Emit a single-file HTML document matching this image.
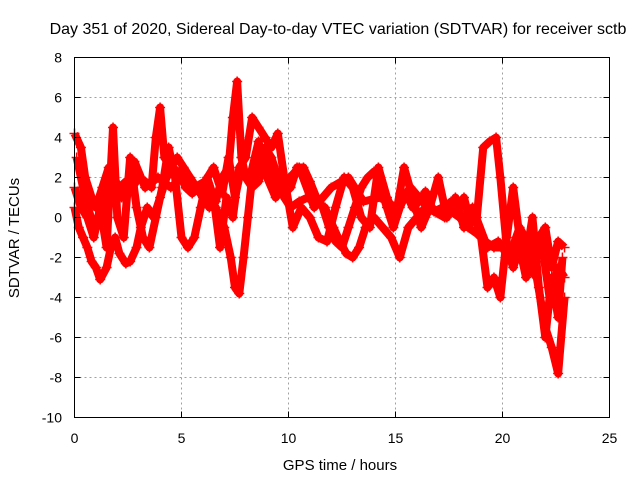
<!DOCTYPE html>
<html><head><meta charset="utf-8"><style>
body{margin:0;background:#fff}
svg{display:block;font-family:"Liberation Sans",sans-serif}
</style></head><body>
<svg id="chart" width="640" height="480" viewBox="0 0 640 480">
<rect width="640" height="480" fill="#fff"/>
<text x="338" y="34" font-size="16" text-anchor="middle">Day 351 of 2020, Sidereal Day-to-day VTEC variation (SDTVAR) for receiver sctb</text>
<g id="grid"></g>
<g id="series"></g>
<rect x="74.5" y="57.5" width="535" height="360" fill="none" stroke="#000" stroke-width="1"/>
<g id="ticks"></g>
<text x="340" y="470" font-size="15" text-anchor="middle">GPS time / hours</text>
<text transform="translate(19,238) rotate(-90)" font-size="15" text-anchor="middle">SDTVAR / TECUs</text>
</svg>
<script>
const xTicks=[0,5,10,15,20,25];
const yTicks=[8,6,4,2,0,-2,-4,-6,-8,-10];
const tA=[0,0.2,0.4,0.6,0.8,1.0,1.2,1.5,1.7,1.9,2.1,2.4,2.6,2.9,3.1,3.4,3.7,4.0,4.3,4.6,4.9,5.2,5.5,5.8,6.2,6.6,7.0,7.3,7.5,7.7,7.9,8.1,8.3,8.6,8.9,9.2,9.5,9.8,10.1,10.5,10.9,11.3,11.7,12.1,12.4,12.7,13.0,13.3,13.6,14.0,14.4,14.8,15.2,15.6,16.0,16.4,16.8,17.2,17.6,18.0,18.4,18.8,19.2,19.6,20.0,20.4,20.8,21.2,21.6,22.0,22.3,22.6,22.9];
const vA=[0.5,-0.5,-1,-1.5,-2.2,-2.5,-3.1,-2.5,-1.5,-1,-1.8,-2.3,-2.2,-1.5,-0.5,0.5,0,1,2,2.5,2.2,1.5,1.2,1.5,1,0.5,-0.5,-2,-3.5,-3.8,-2,0,2,3.2,3.5,3,2,1,0.5,0.8,1,0.8,0.5,-0.5,-1.2,-1.8,-2,-1.5,-0.5,0,-0.5,-1,-2,-0.5,0,0.5,0.3,0.5,0.3,0,-0.5,-0.8,-1.2,-1.5,-1.5,-1.5,-2,-2.5,-3,-5.5,-6.5,-7.8,-4];
const tB=[0,0.3,0.5,0.8,1.0,1.3,1.6,1.8,2.1,2.4,2.7,3.0,3.3,3.6,3.8,4.0,4.2,4.5,4.8,5.1,5.4,5.7,6.0,6.3,6.6,6.9,7.2,7.4,7.6,7.8,8.0,8.3,8.6,8.9,9.2,9.5,9.8,10.1,10.4,10.7,11.0,11.3,11.6,11.9,12.2,12.5,12.8,13.1,13.4,13.7,14.0,14.3,14.6,14.9,15.2,15.5,15.8,16.1,16.4,16.7,17.0,17.3,17.6,17.9,18.2,18.5,18.8,19.1,19.4,19.7,19.9,20.2,20.5,20.8,21.1,21.4,21.7,22.0,22.3,22.6,22.9];
const vB=[4.2,3.5,2,1,0.5,1.5,2.5,2,1.5,1.8,1.5,2,1.8,1.5,4,5.5,3,2.5,3,2.5,2,1.5,1,0.5,0.8,2,2.5,5,6.8,3,2,1.5,1.8,3,2.5,1.5,1.2,1.5,2.5,2.5,1.8,1,0.5,-0.5,-1.2,-1.5,-0.5,0.5,1.5,2,2.3,1.5,0.5,-0.5,0.5,1.2,0.5,0.8,1.3,0.5,0.2,0.5,0.8,0.5,1.0,-0.3,0,3.5,3.8,4,2,-1.5,-2.5,-1.5,-3,-2,-1,-0.5,-2.5,-1.2,-1.5];
const tC=[0,0.3,0.6,0.9,1.2,1.5,1.8,2.0,2.3,2.6,2.9,3.2,3.5,3.8,4.1,4.4,4.7,5.0,5.3,5.6,5.9,6.2,6.5,6.8,7.1,7.4,7.7,8.0,8.3,8.6,8.9,9.2,9.5,9.8,10.2,10.6,11.0,11.4,11.8,12.2,12.6,13.0,13.4,13.8,14.2,14.6,15.0,15.4,15.8,16.2,16.6,17.0,17.4,17.8,18.2,18.6,19.0,19.3,19.6,19.9,20.2,20.5,20.8,21.1,21.4,21.7,22.0,22.3,22.6,22.8];
const vC=[1.5,0.5,0,-1,0.5,-1.5,4.5,0,-1,3,0.5,-1,-1.5,0,1.5,3.5,2,-1,-1.5,-1,0.5,2,1,-1.5,1,0,2.5,3,5,4.5,4,3.5,4.2,2,-0.5,0.5,0,-1,-1.2,0.5,2,1.5,0,-0.5,2.5,1,0,2.5,1,-0.5,0.5,2,0,1,-0.5,0.5,-1,-3.5,-3,-4,-1,1.5,-1,-2,0,-3.5,-6,-3,-5,-2];
const tD=[0.1,0.5,0.9,1.3,1.7,2.2,2.8,3.3,3.9,4.5,5.0,5.6,6.1,6.5,6.9,7.2,7.5,7.8,8.2,8.6,9.0,9.4,9.9,10.5,11.2,12.0,12.8,13.5,14.3,15.0,15.7,16.5,17.3,18.0,18.7,19.3,19.8,20.3,20.8,21.3,21.8,22.2,22.6,22.9];
const vD=[3,1,-0.5,0,2.5,1,2.8,1.5,2,1.5,2,1.5,1.8,2.5,1.2,3,1,2.5,2,3.8,2,1,1.8,2.5,0.5,1.5,2,0.8,1,0.5,1.5,0.5,0,0.8,0.2,-1.5,-1.2,-2,-0.5,-1.5,-1,-4,-2.5,-3];

const X0=74.5,X1=609.5,Y0=417.5,Y1=57.5;
const sx=t=>X0+(t-0)/(25-0)*(X1-X0);
const sy=v=>Y0-(v+10)/(8+10)*(Y0-Y1);
const NS="http://www.w3.org/2000/svg";
const grid=document.getElementById('grid'),ticks=document.getElementById('ticks'),ser=document.getElementById('series');
function mk(tag,attrs,parent){const e=document.createElementNS(NS,tag);for(const k in attrs)e.setAttribute(k,attrs[k]);parent.appendChild(e);return e;}
xTicks.forEach(t=>{const x=sx(t);
 if(t>0&&t<25){const g=mk('line',{x1:x,x2:x,y1:Y1,y2:Y0,stroke:'#a0a0a0','stroke-dasharray':'2,3'},grid);
 
 }
 const a=mk('line',{x1:x,x2:x,y1:Y0,y2:Y0-6,stroke:'#000'},ticks);
 
 
 const b=mk('line',{x1:x,x2:x,y1:Y1,y2:Y1+6,stroke:'#000'},ticks);
 
 
 const l=mk('text',{x:x,y:443,'font-size':14,'text-anchor':'middle'},ticks);l.textContent=t;
 
 
});
yTicks.forEach(v=>{const y=sy(v);
 if(v>-10&&v<8){const g=mk('line',{x1:X0,x2:X1,y1:y,y2:y,stroke:'#a0a0a0','stroke-dasharray':'2,3'},grid);
 
 }
 const a=mk('line',{x1:X0,x2:X0+6,y1:y,y2:y,stroke:'#000'},ticks);
 
 
 const b=mk('line',{x1:X1,x2:X1-6,y1:y,y2:y,stroke:'#000'},ticks);
 
 
 const l=mk('text',{x:62,y:y+5,'font-size':14,'text-anchor':'end'},ticks);l.textContent=v;
 
 
});
[[tA,vA,'track-a'],[tB,vB,'track-b'],[tC,vC,'track-c'],[tD,vD,'track-d']].forEach(([ts,vs,nm])=>{
 const pts=ts.map((t,i)=>sx(t)+','+sy(vs[i])).join(' ');
 const pl=mk('polyline',{points:pts,fill:'none',stroke:'#ff0000','stroke-width':8,'stroke-linejoin':'round'},ser);
 
 
 ts.forEach((t,i)=>{const x=sx(t),y=sy(vs[i]);
  const p=mk('path',{d:`M${x-5},${y}h10M${x},${y-5}v10`,stroke:'#ff0000','stroke-width':1.5},ser);
  
  
 });
});
</script>
</body></html>
